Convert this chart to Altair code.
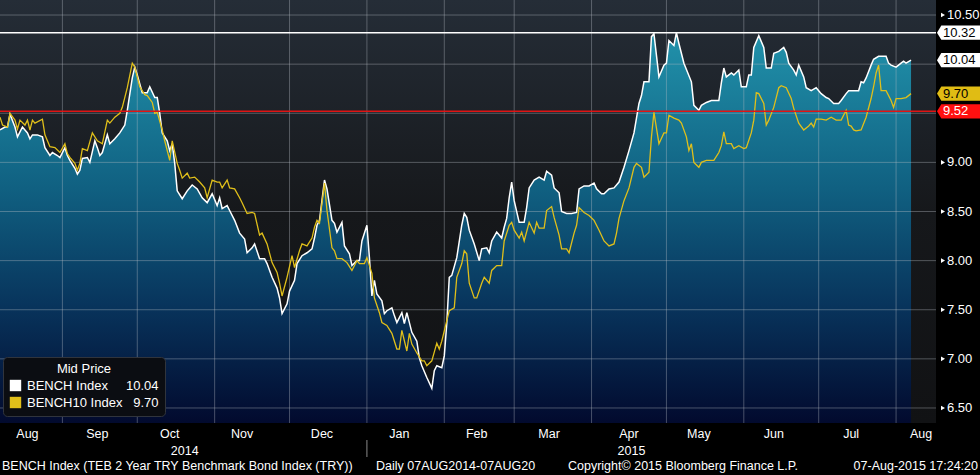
import altair as alt
import pandas as pd

FONT = "Liberation Sans"
START = "2014-08-07"
END = "2015-08-17"

SERIES = ["BENCH Index", "BENCH10 Index"]
SERIES_COLORS = ["#ffffff", "#e0bf1a"]

# BENCH Index (day offset from 07AUG2014, value)
bench_days = [0, 2, 3, 4, 6, 7, 8, 9, 11, 12, 13, 15, 17, 18, 20, 21, 23, 24, 26, 27, 28, 30, 31, 32, 33, 35, 36, 38, 39, 40,
              41, 43, 44, 46, 48, 50, 51, 53, 54, 55, 57, 59, 60, 62, 63, 64, 65, 67, 68, 69, 70, 71, 73, 75, 77, 79, 81, 83, 85, 87,
              88, 89, 91, 92, 94, 96, 98, 99, 101, 102, 104, 106, 107, 109, 111, 112, 113, 115, 116, 118, 119, 121, 123, 125, 126, 127, 128, 130, 131, 133,
              134, 135, 137, 138, 140, 141, 143, 144, 145, 147, 148, 149, 150, 151, 153, 154, 155, 157, 158, 159, 161, 162, 163, 165, 167, 168, 169, 171, 173, 174,
              175, 177, 178, 179, 180, 181, 183, 185, 186, 187, 188, 190, 192, 193, 195, 196, 197, 199, 201, 202, 203, 204, 205, 206, 208, 210, 211, 212, 214, 216,
              218, 219, 221, 222, 224, 225, 227, 229, 231, 232, 234, 236, 238, 239, 241, 242, 244, 246, 248, 250, 252, 254, 256, 257, 258, 260, 261, 262, 264, 266,
              267, 268, 270, 271, 272, 274, 277, 278, 280, 281, 283, 285, 288, 289, 290, 291, 293, 294, 296, 297, 299, 300, 301, 302, 304, 306, 307, 309, 310, 312,
              314, 315, 316, 318, 319, 320, 322, 323, 325, 327, 329, 331, 332, 334, 336, 337, 339, 340, 342, 344, 345, 346, 347, 349, 350, 352, 355, 356, 357, 359,
              361, 362, 363, 365]
bench_vals = [9.33, 9.36, 9.36, 9.49, 9.36, 9.26, 9.31, 9.36, 9.30, 9.24, 9.28, 9.28, 9.26, 9.15, 9.07, 9.10, 9.07, 9.05, 9.15, 9.07, 9.02, 8.94, 8.88, 8.92, 9.04, 9.05, 9.00, 9.22, 9.15, 9.07,
              9.10, 9.28, 9.19, 9.24, 9.30, 9.38, 9.53, 9.86, 9.97, 9.89, 9.71, 9.71, 9.77, 9.66, 9.66, 9.50, 9.30, 9.22, 9.12, 9.19, 8.99, 8.71, 8.63, 8.71, 8.77, 8.73, 8.64, 8.59, 8.68, 8.56,
              8.64, 8.53, 8.56, 8.51, 8.41, 8.28, 8.22, 8.08, 8.13, 8.17, 8.02, 8.02, 7.97, 7.83, 7.72, 7.62, 7.46, 7.56, 7.69, 7.80, 7.97, 8.05, 8.08, 8.12, 8.23, 8.36, 8.41, 8.82, 8.73, 8.41,
              8.38, 8.29, 8.39, 8.15, 8.07, 7.95, 8.00, 8.00, 8.20, 8.36, 8.03, 7.64, 7.80, 7.66, 7.59, 7.46, 7.49, 7.52, 7.44, 7.37, 7.47, 7.36, 7.47, 7.27, 7.18, 7.01, 6.93, 6.81, 6.70, 6.88,
              6.93, 6.91, 7.03, 7.36, 7.83, 7.85, 8.03, 8.36, 8.48, 8.44, 8.31, 8.17, 8.00, 8.12, 8.13, 8.08, 8.20, 8.29, 8.23, 8.34, 8.43, 8.64, 8.80, 8.61, 8.39, 8.39, 8.54, 8.74, 8.82, 8.85,
              8.82, 8.91, 8.87, 8.74, 8.69, 8.50, 8.48, 8.48, 8.49, 8.73, 8.76, 8.76, 8.79, 8.73, 8.68, 8.68, 8.73, 8.74, 8.80, 8.95, 9.12, 9.30, 9.60, 9.68, 9.82, 9.82, 10.28, 10.31, 9.87, 9.99,
              10.01, 10.24, 10.19, 10.32, 10.21, 10.01, 9.82, 9.58, 9.53, 9.58, 9.61, 9.63, 9.63, 9.81, 9.96, 9.87, 9.91, 9.89, 9.94, 9.77, 9.77, 9.89, 9.89, 10.17, 10.29, 10.17, 9.96, 9.96, 10.11, 10.13,
              10.17, 10.12, 10.01, 9.94, 9.89, 9.99, 9.87, 9.76, 9.73, 9.76, 9.70, 9.66, 9.65, 9.60, 9.60, 9.63, 9.70, 9.73, 9.73, 9.73, 9.82, 9.81, 9.86, 9.99, 10.05, 10.08, 10.08, 10.01, 9.99, 9.97,
              10.01, 10.03, 10.01, 10.04]

# BENCH10 Index (day offset from 07AUG2014, value)
b10_days = [0, 1, 3, 4, 6, 7, 8, 10, 11, 12, 13, 14, 17, 18, 20, 22, 24, 26, 27, 28, 30, 31, 32, 33, 35, 37, 39, 41, 43, 44,
            46, 48, 49, 51, 53, 54, 56, 58, 59, 61, 62, 63, 65, 66, 68, 69, 71, 72, 73, 75, 76, 78, 80, 82, 83, 85, 87, 88, 89, 91,
            92, 94, 96, 97, 99, 101, 102, 104, 105, 107, 109, 111, 112, 113, 115, 117, 118, 120, 121, 123, 125, 126, 127, 128, 130, 131, 133, 134, 135, 137,
            139, 141, 143, 144, 146, 147, 149, 150, 152, 153, 155, 157, 159, 160, 161, 163, 164, 165, 167, 169, 170, 171, 173, 175, 176, 177, 179, 180, 182, 183,
            185, 186, 187, 188, 190, 191, 193, 194, 196, 197, 199, 201, 202, 204, 205, 206, 208, 209, 210, 212, 214, 215, 216, 218, 219, 221, 222, 224, 225, 227,
            228, 230, 231, 232, 234, 236, 238, 240, 242, 244, 246, 247, 248, 250, 252, 254, 255, 257, 258, 260, 261, 262, 264, 266, 267, 268, 270, 272, 273, 275,
            276, 277, 278, 280, 281, 283, 286, 288, 289, 290, 291, 293, 294, 296, 298, 299, 301, 302, 303, 304, 306, 307, 308, 310, 311, 312, 313, 315, 317, 318,
            320, 322, 324, 325, 326, 327, 329, 331, 333, 335, 337, 339, 340, 341, 342, 343, 345, 347, 349, 350, 351, 352, 353, 355, 357, 358, 359, 361, 363, 365]
b10_vals = [9.46, 9.38, 9.36, 9.50, 9.43, 9.34, 9.43, 9.38, 9.43, 9.33, 9.43, 9.40, 9.44, 9.28, 9.16, 9.15, 9.10, 9.19, 9.09, 9.05, 8.99, 8.92, 8.99, 9.14, 9.12, 9.30, 9.22, 9.19, 9.43, 9.40,
            9.46, 9.50, 9.56, 9.76, 10.01, 9.97, 9.77, 9.69, 9.68, 9.61, 9.50, 9.51, 9.33, 9.22, 9.02, 9.22, 8.99, 8.92, 8.84, 8.89, 8.84, 8.85, 8.80, 8.74, 8.64, 8.82, 8.80, 8.80, 8.74, 8.82,
            8.74, 8.73, 8.64, 8.59, 8.48, 8.49, 8.48, 8.26, 8.28, 8.17, 7.98, 7.88, 7.77, 7.64, 7.83, 8.05, 7.93, 8.10, 8.17, 8.15, 8.23, 8.34, 8.41, 8.38, 8.79, 8.51, 8.13, 8.10, 8.02, 8.02,
            7.98, 7.90, 8.00, 7.97, 7.97, 8.03, 7.87, 7.62, 7.47, 7.37, 7.34, 7.26, 7.10, 7.10, 7.29, 7.08, 7.26, 7.15, 7.06, 6.98, 6.98, 6.93, 6.98, 7.16, 7.10, 7.18, 7.39, 7.49, 7.52, 7.83,
            7.97, 8.10, 8.07, 7.77, 7.62, 7.62, 7.77, 7.83, 7.77, 7.90, 7.95, 7.95, 8.20, 8.36, 8.39, 8.31, 8.23, 8.29, 8.20, 8.39, 8.28, 8.39, 8.33, 8.33, 8.51, 8.55, 8.44, 8.26, 8.12, 8.12,
            8.08, 8.28, 8.36, 8.54, 8.49, 8.46, 8.41, 8.31, 8.20, 8.15, 8.17, 8.28, 8.43, 8.61, 8.74, 8.95, 8.99, 8.95, 8.85, 8.90, 9.26, 9.51, 9.19, 9.30, 9.30, 9.48, 9.45, 9.43, 9.40, 9.26,
            9.12, 9.19, 9.00, 8.95, 9.00, 9.02, 9.02, 9.10, 9.17, 9.31, 9.19, 9.19, 9.14, 9.17, 9.14, 9.15, 9.30, 9.43, 9.71, 9.70, 9.60, 9.38, 9.43, 9.56, 9.66, 9.76, 9.78, 9.76, 9.65, 9.55,
            9.40, 9.33, 9.37, 9.40, 9.36, 9.44, 9.44, 9.43, 9.46, 9.43, 9.43, 9.53, 9.38, 9.37, 9.33, 9.32, 9.33, 9.46, 9.65, 9.77, 9.91, 9.99, 9.73, 9.73, 9.63, 9.56, 9.65, 9.65, 9.66, 9.70]

grid_levels = [6.5, 7.0, 7.5, 8.0, 8.5, 9.0, 9.5, 10.0, 10.5]
label_levels = [6.5, 7.0, 7.5, 8.0, 8.5, 9.0, 10.5]
axis_ticks = [6.5, 6.75, 7.0, 7.25, 7.5, 7.75, 8.0, 8.25, 8.5, 8.75, 9.0, 9.25, 9.5, 9.75, 10.0, 10.25, 10.5]
month_starts = ["2014-09-01", "2014-10-01", "2014-11-01", "2014-12-01", "2015-01-01", "2015-02-01",
                "2015-03-01", "2015-04-01", "2015-05-01", "2015-06-01", "2015-07-01", "2015-08-01"]
month_names = ["Aug", "Sep", "Oct", "Nov", "Dec", "Jan", "Feb", "Mar", "Apr", "May", "Jun", "Jul", "Aug"]
month_label_dates = ["2014-08-18", "2014-09-15", "2014-10-14", "2014-11-12", "2014-12-14", "2015-01-14", "2015-02-14",
                     "2015-03-15", "2015-04-16", "2015-05-14", "2015-06-13", "2015-07-14", "2015-08-11"]
year_names = ["2014", "2015"]
year_label_dates = ["2014-10-20", "2015-04-17"]
year_break = ["2015-01-01"]
max_level = [10.32]
ref_level = [9.52]
y_domain = [6.347, 10.653]

TAG_KINDS = ["max", "bench", "bench10", "ref"]
TAG_FILLS = ["#ffffff", "#ffffff", "#e0bc14", "#ff1010"]

W, H = 936, 423
GRID_COLOR = "#b8bec6"
GRID_OPACITY = 0.38


def ms(s):
    return int(pd.Timestamp(s, tz="UTC").timestamp() * 1000)


def to_dates(days):
    base = pd.Timestamp(START)
    return [(base + pd.Timedelta(days=d)).strftime("%Y-%m-%d") for d in days]


bench_df = pd.DataFrame({"date": to_dates(bench_days), "value": bench_vals})
b10_df = pd.DataFrame({"date": to_dates(b10_days), "value": b10_vals})
last_df = pd.DataFrame({"series": SERIES,
                        "date": [to_dates(bench_days)[-1], to_dates(b10_days)[-1]],
                        "value": [bench_vals[-1], b10_vals[-1]]})
tag_vals = [max_level[0], bench_vals[-1], b10_vals[-1], ref_level[0]]
tag_df = pd.DataFrame({"kind": TAG_KINDS, "value": tag_vals, "label": [f"{v:.2f}" for v in tag_vals]})
ylab_levels_df = pd.DataFrame({"level": label_levels, "label": [f"{v:.2f}" for v in label_levels]})
hgrid_df = pd.DataFrame({"level": grid_levels})
vgrid_df = pd.DataFrame({"date": month_starts})
mlab_df = pd.DataFrame({"date": month_label_dates, "name": month_names})
ylab_df = pd.DataFrame({"date": year_label_dates, "name": year_names})
ybreak_df = pd.DataFrame({"date": year_break})
max_df = pd.DataFrame({"level": max_level})
ref_df = pd.DataFrame({"level": ref_level})
frame_df = pd.DataFrame({"x0": [START], "x1": [END], "y0": [y_domain[0]], "y1": [y_domain[1]]})

x_scale = alt.Scale(domain=[ms(START), ms(END)])
y_scale = alt.Scale(domain=y_domain, zero=False, nice=False)

x_axis = alt.Axis(values=[ms(d) for d in month_starts], labels=False, ticks=True, tickColor="#ffffff",
                  tickSize=4, tickWidth=1, domain=True, domainColor="#ffffff", domainWidth=1,
                  grid=False, title=None, zindex=1)
y_axis = alt.Axis(orient="right", values=axis_ticks, labels=False, tickColor="#ffffff", tickSize=4,
                  domain=True, domainColor="#ffffff", domainWidth=1,
                  grid=False, title=None, zindex=1)

X = alt.X("date:T", scale=x_scale, axis=None)
Y = alt.Y("value:Q", scale=y_scale, axis=None)

area_grad = alt.LinearGradient(
    gradient="linear",
    stops=[alt.GradientStop(color="#2192ab", offset=0),
           alt.GradientStop(color="#106081", offset=0.4),
           alt.GradientStop(color="#08345c", offset=0.7),
           alt.GradientStop(color="#020a2e", offset=1)],
    x1=0, x2=0, y1=0, y2=1)

bg_grad = alt.LinearGradient(
    gradient="linear",
    stops=[alt.GradientStop(color="#252d37", offset=0),
           alt.GradientStop(color="#16181b", offset=0.5),
           alt.GradientStop(color="#111214", offset=1)],
    x1=0, x2=0, y1=0, y2=1)

backdrop = alt.Chart(frame_df).mark_rect(color=bg_grad).encode(
    x=alt.X("x0:T", scale=x_scale, axis=None), x2="x1:T",
    y=alt.Y("y1:Q", scale=y_scale, axis=None), y2="y0:Q")

area = alt.Chart(bench_df).mark_area(clip=True, color=area_grad, interpolate="linear").encode(
    x=alt.X("date:T", scale=x_scale, axis=x_axis),
    y=alt.Y("value:Q", scale=y_scale, axis=y_axis),
    y2=alt.datum(y_domain[0]),
)

hgrid = alt.Chart(hgrid_df).mark_rule(color=GRID_COLOR, strokeWidth=1, opacity=GRID_OPACITY).encode(
    y=alt.Y("level:Q", scale=y_scale, axis=None))
vgrid = alt.Chart(vgrid_df).mark_rule(color=GRID_COLOR, strokeWidth=1, opacity=GRID_OPACITY).encode(
    x=alt.X("date:T", scale=x_scale, axis=None))

bench_line = alt.Chart(bench_df).mark_line(clip=True, color=SERIES_COLORS[0], strokeWidth=1.5).encode(x=X, y=Y)
b10_line = alt.Chart(b10_df).mark_line(clip=True, color=SERIES_COLORS[1], strokeWidth=1.3).encode(x=X, y=Y)

max_rule = alt.Chart(max_df).mark_rule(color="#ffffff", strokeWidth=1.6).encode(
    y=alt.Y("level:Q", scale=y_scale, axis=None))
ref_rule = alt.Chart(ref_df).mark_rule(color="#e01414", strokeWidth=1.6).encode(
    y=alt.Y("level:Q", scale=y_scale, axis=None))

nb = "\u00a0"
lab1 = SERIES[0] + nb * 5 + f"{bench_vals[-1]:.2f}"
lab2 = SERIES[1] + nb * 3 + f"{b10_vals[-1]:.2f}"
legend = alt.Legend(
    title="Mid Price", orient="none", legendX=3, legendY=357, direction="vertical",
    titleColor="#ffffff", titleFont=FONT, titleFontSize=13, titleFontWeight="normal",
    titleAnchor="middle", titlePadding=3,
    labelColor="#ffffff", labelFont=FONT, labelFontSize=13, labelOffset=5,
    labelExpr=f"datum.label == '{SERIES[0]}' ? '{lab1}' : '{lab2}'",
    symbolType="square", symbolSize=130, symbolStrokeWidth=0, symbolOpacity=1,
    fillColor="#0b0d12", strokeColor="#30343c", padding=6, cornerRadius=4, rowPadding=3, zindex=2,
)
legend_carrier = alt.Chart(last_df).mark_point(shape="square", filled=True, opacity=0, size=4).encode(
    x=X, y=Y,
    color=alt.Color("series:N", scale=alt.Scale(domain=SERIES, range=SERIES_COLORS), legend=legend),
)

# right-hand value labels with their small pointer triangles
ylab_tri = alt.Chart(ylab_levels_df).mark_point(shape="triangle-right", filled=True, size=22, color="#ffffff",
                                                opacity=1).encode(
    x=alt.value(W + 7), y=alt.Y("level:Q", scale=y_scale, axis=None))
ylab_text = alt.Chart(ylab_levels_df).mark_text(align="left", baseline="middle", font=FONT, fontSize=13,
                                                color="#ffffff").encode(
    x=alt.value(W + 11), y=alt.Y("level:Q", scale=y_scale, axis=None), text="label:N")

TAG_PATH = "M -1 0 L -0.8 -0.33 L 1 -0.33 L 1 0.33 L -0.8 0.33 Z"
tag_boxes = alt.Chart(tag_df).mark_point(shape=TAG_PATH, filled=True, opacity=1, size=1849, strokeWidth=0).encode(
    x=alt.value(W + 22.5),
    y=alt.Y("value:Q", scale=y_scale, axis=None),
    fill=alt.Fill("kind:N", scale=alt.Scale(domain=TAG_KINDS, range=TAG_FILLS), legend=None),
)
tag_text = alt.Chart(tag_df).mark_text(align="left", baseline="middle", font=FONT, fontSize=13).encode(
    x=alt.value(W + 7),
    y=alt.Y("value:Q", scale=y_scale, axis=None),
    text="label:N",
    color=alt.condition("datum.kind == 'ref'", alt.value("#ffffff"), alt.value("#000000")),
)

month_text = alt.Chart(mlab_df).mark_text(align="center", baseline="middle", font=FONT, fontSize=12.5,
                                          color="#ffffff").encode(
    x=alt.X("date:T", scale=x_scale, axis=None), y=alt.value(H + 11), text="name:N")
year_text = alt.Chart(ylab_df).mark_text(align="center", baseline="middle", font=FONT, fontSize=12.5,
                                         color="#ffffff").encode(
    x=alt.X("date:T", scale=x_scale, axis=None), y=alt.value(H + 28), text="name:N")
year_sep = alt.Chart(ybreak_df).mark_rule(color="#8a8a8a", strokeWidth=1).encode(
    x=alt.X("date:T", scale=x_scale, axis=None), y=alt.value(H + 17), y2=alt.value(H + 34))


def footer(txt, xpos, align="left"):
    return alt.Chart(alt.Data(values=[{}])).mark_text(
        align=align, baseline="middle", font=FONT, fontSize=12.5, color="#ffffff").encode(
        x=alt.value(xpos), y=alt.value(H + 43), text=alt.value(txt))


footers = [
    footer("BENCH Index (TEB 2 Year TRY Benchmark Bond Index (TRY))", 2),
    footer("Daily 07AUG2014-07AUG20", 376),
    footer("Copyright\u00a9 2015 Bloomberg Finance L.P.", 568),
    footer("07-Aug-2015 17:24:20", 978, "right"),
]

chart = alt.layer(
    backdrop, area, hgrid, vgrid, bench_line, b10_line, max_rule, ref_rule, legend_carrier,
    ylab_tri, ylab_text, tag_boxes, tag_text, month_text, year_text, year_sep, *footers
).properties(
    width=W, height=H, background="#000000",
    padding={"left": 0, "top": 0, "right": 980 - W, "bottom": 475 - H},
    autosize=alt.AutoSizeParams(type="none"),
).configure_view(strokeWidth=0)

chart.save("out.html", embed_options={"renderer": "svg", "actions": False})
